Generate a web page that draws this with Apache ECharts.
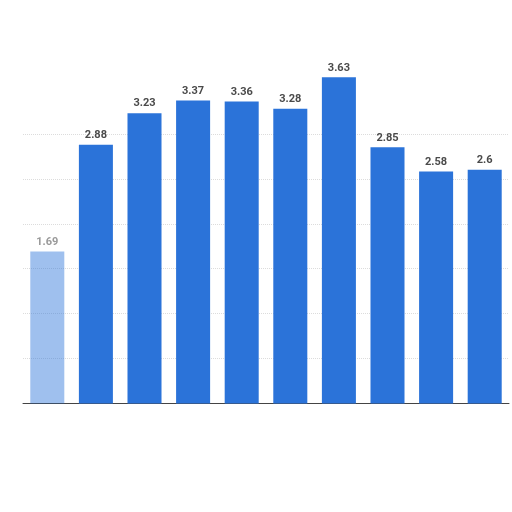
<!DOCTYPE html>
<html>
<head>
<meta charset="utf-8">
<script src="https://cdn.jsdelivr.net/npm/echarts@6/dist/echarts.min.js"></script>
<style>html,body{margin:0;padding:0;background:#fff;}#c{width:512px;height:512px;}</style>
</head>
<body>
<div id="c"></div>
<script>
var categories = ['1', '2', '3', '4', '5', '6', '7', '8', '9', '10'];
var values = [1.69, 2.88, 3.23, 3.37, 3.36, 3.28, 3.63, 2.85, 2.58, 2.6];

var g = '#dcdcdc', t = 'rgba(0,0,0,0)';
var chart = echarts.init(document.getElementById('c'), null, {renderer: 'canvas'});
chart.setOption({
  animation: false,
  backgroundColor: '#ffffff',
  grid: {left: 23, right: 3, top: 44, bottom: 108.5, containLabel: false},
  xAxis: {
    type: 'category',
    data: categories,
    axisLine: {show: true, lineStyle: {color: '#444', width: 1}},
    axisTick: {show: false},
    axisLabel: {show: false}
  },
  yAxis: {
    type: 'value',
    min: 0, max: 4, interval: 0.5,
    axisLine: {show: false},
    axisTick: {show: false},
    axisLabel: {show: false},
    splitLine: {show: true, lineStyle: {color: [g, g, g, g, g, g, g, t, t], type: 'dotted', width: 1}}
  },
  series: [{
    type: 'bar',
    data: values.map(function (v, i) {
      return i === 0 ? {value: v, itemStyle: {color: 'rgba(43,115,217,0.45)'}, label: {color: '#999'}} : v;
    }),
    barWidth: '70%',
    itemStyle: {color: '#2b73d9'},
    label: {
      show: true, position: 'top', distance: 4,
      color: '#4a4a4a', fontSize: 11, fontWeight: 'bold', fontFamily: 'Roboto, Arial, sans-serif'
    }
  }]
});
</script>
</body>
</html>
